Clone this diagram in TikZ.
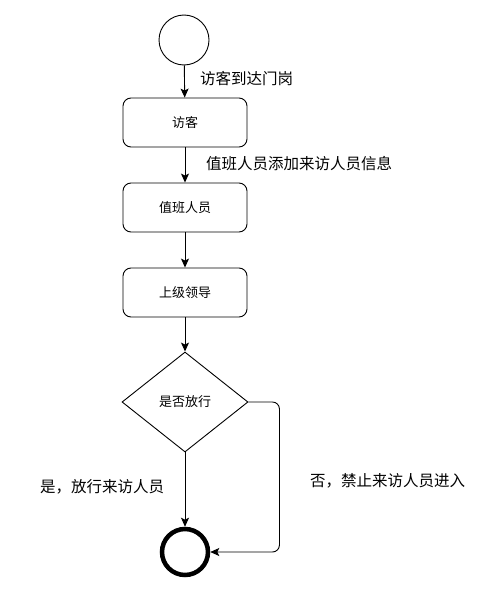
\documentclass[tikz,border=0pt]{standalone}
\usepackage{fontspec}
\setmainfont{Noto Sans CJK SC}
\usetikzlibrary{shapes.geometric,arrows.meta}
\begin{document}
\begin{tikzpicture}[x=1pt,y=-1pt,
  stepbox/.style={draw,rounded corners=8pt,minimum width=124pt,minimum height=49pt,inner sep=0pt,font=\fontsize{13}{15}\selectfont,line width=0.9pt},
  decision/.style={draw,diamond,minimum width=126pt,minimum height=100pt,inner sep=0pt,font=\fontsize{13}{15}\selectfont,line width=0.9pt},
  lbl/.style={anchor=west,inner sep=0pt,font=\fontsize{15.5}{17}\selectfont},
  flow/.style={line width=0.9pt,-{Stealth[length=9pt,width=8pt,inset=2pt]}}]
\useasboundingbox (0,0) rectangle (496,594);
\fill[white] (0,0) rectangle (496,594);
\node[draw,circle,minimum size=50pt,inner sep=0pt,line width=0.9pt] (start) at (184,40) {};
\node[stepbox] (b1) at (185,122.5) {访客};
\node[stepbox] (b2) at (185,207.5) {值班人员};
\node[stepbox] (b3) at (185,292.5) {上级领导};
\node[decision] (d) at (185,402) {是否放行};
\node[draw,circle,minimum size=46pt,inner sep=0pt,line width=4.5pt] (end) at (185,552) {};
\draw[flow] (start) -- (b1);
\draw[flow] (b1) -- (b2);
\draw[flow] (b2) -- (b3);
\draw[flow] (b3) -- (d);
\draw[flow] (d) -- (end);
\draw[flow,rounded corners=7pt] (d.east) -- ++(31,0) |- (end.east);
\node[lbl] (l1) at (200,79) {访客到达门岗};
\node[lbl] (l2) at (206,164) {值班人员添加来访人员信息};
\node[lbl] (l3) at (40,487) {是，放行来访人员};
\node[lbl] (l4) at (310,481) {否，禁止来访人员进入};
\end{tikzpicture}
\end{document}
